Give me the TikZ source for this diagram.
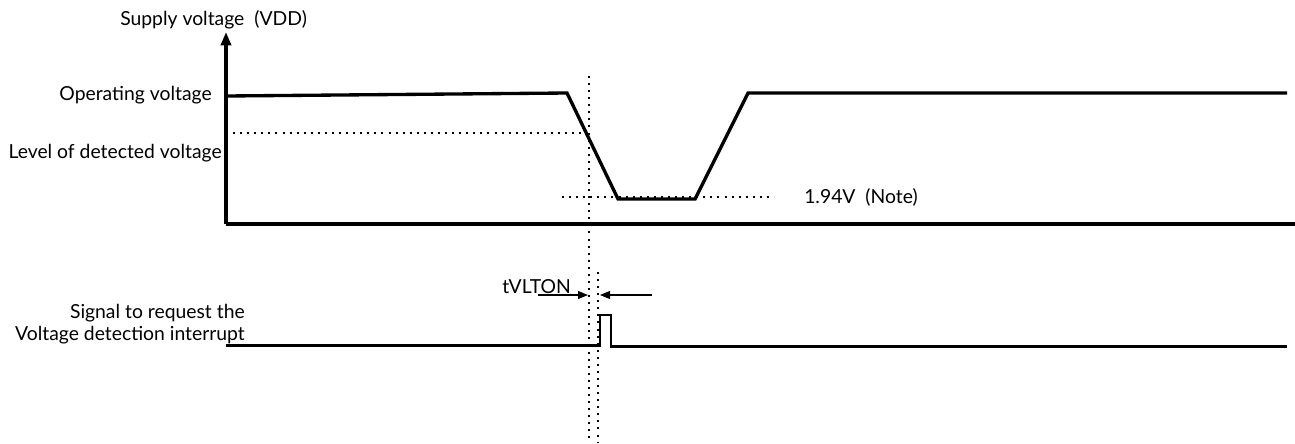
\documentclass[tikz,border=0pt]{standalone}
\usepackage{fontspec}
\setmainfont{Lato}
\usetikzlibrary{arrows.meta}
\begin{document}
\begin{tikzpicture}[x=0.75pt,y=-0.75pt,
  lbl/.style={inner sep=0pt,font=\fontsize{14.5}{16}\selectfont},
  wave/.style={line width=2.5pt,line join=miter},
  pulse/.style={line width=2pt,line join=miter},
  dots/.style={line width=1.5pt,dash pattern=on 1.5pt off 3.8pt},
  thin arrow/.style={line width=0.8pt,-{Triangle[length=7.5pt,width=6pt]}}]
\useasboundingbox (0,0) rectangle (1295,443);
% axis
\coordinate (o) at (226,224);
\coordinate (top) at (226,32);
\coordinate (xend) at (1295,224);
\draw[wave,-{Triangle[length=10pt,width=7.5pt]}] (o) -- (top);
\draw[wave] (o) -- (xend);
% supply waveform
\coordinate (v0) at (226,96);
\coordinate (v1) at (567,93);
\coordinate (v2) at (618,199);
\coordinate (v3) at (695,199);
\coordinate (v4) at (748,93);
\coordinate (v5) at (1287,93);
\draw[wave] (v0) -- (v1) -- (v2) -- (v3) -- (v4) -- (v5);
% dotted references
\coordinate (d0) at (226,132.5);
\coordinate (d1) at (585,132.5);
\draw[dots] (d0) -- (d1);
\coordinate (m0) at (562,197);
\coordinate (m1) at (774,197);
\draw[dots] (m0) -- (m1);
\coordinate (t0) at (589,76);
\coordinate (t1) at (589,443);
\draw[dots] (t0) -- (t1);
\coordinate (u0) at (598,272);
\coordinate (u1) at (598,443);
\draw[dots] (u0) -- (u1);
% interrupt signal
\coordinate (s0) at (226,345.5);
\coordinate (s1) at (600,345.5);
\coordinate (s2) at (600,315);
\coordinate (s3) at (611,315);
\coordinate (s4) at (611,346.5);
\coordinate (s5) at (1287,346.5);
\draw[pulse] (s0) -- (s1) -- (s2) -- (s3) -- (s4) -- (s5);
% tVLTON arrows
\coordinate (a0) at (538,295);
\coordinate (a1) at (588,295);
\coordinate (b0) at (652,295);
\coordinate (b1) at (600,295);
\draw[thin arrow] (a0) -- (a1);
\draw[thin arrow] (b0) -- (b1);
% labels
\node[lbl,anchor=west] (lsup) at (120,20) {Supply voltage\ \ (VDD)};
\node[lbl,anchor=east] (lop) at (212,95) {Operating voltage};
\node[lbl,anchor=east] (llev) at (222,153) {Level of detected voltage};
\node[lbl,anchor=west] (lnote) at (804,197) {1.94V\ \ (Note)};
\node[lbl,anchor=west] (lt) at (502,287) {tVLTON};
\node[lbl,anchor=east] (lsig1) at (245,313) {Signal to request the};
\node[lbl,anchor=east] (lsig2) at (245,335) {Voltage detection interrupt};
\end{tikzpicture}
\end{document}
